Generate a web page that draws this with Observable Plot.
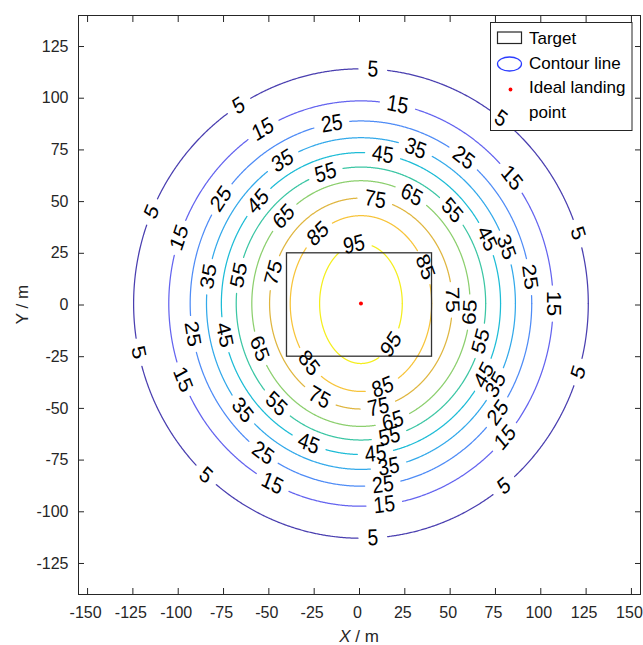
<!DOCTYPE html>
<html><head><meta charset="utf-8">
<script src="https://cdn.jsdelivr.net/npm/d3@7"></script>
<script src="https://cdn.jsdelivr.net/npm/@observablehq/plot@0.6"></script>
<style>
html,body{margin:0;padding:0;background:#fff;overflow:hidden}
#chart{position:relative;width:643px;height:645px}
</style></head><body><div id="chart"></div>
<script>
// ---- data ----
const levels  = [5, 15, 25, 35, 45, 55, 65, 75, 85, 95];
const radiusX = [125.4, 106, 94.2, 85.2, 77, 68.8, 60.2, 50.4, 39, 22.8];   // half-width of each contour (m)
const radiusY = [113.5, 98, 88.3, 80.2, 73, 66, 59.4, 51, 42.5, 29];       // half-height of each contour (m)
const landing = [{x: 0.8, y: 0.7}];                                         // ideal landing point
const target  = [{x1: -40, x2: 40, y1: -25, y2: 25}];                       // target rectangle
// where each contour carries its labels (angle around the contour, degrees)
const labelAngles = [
  [87, 122.5, 157, -168, -133, -87, -51, -17, 17.4, 52],
  [79, 120.7, 161, -158, -117.5, -83, -41.4, 0, 38.3],
  [99.8, 145, -170.4, -125, -82.6, -36.7, 8.4, 53],
  [120.5, 170.6, -140, -79.6, -29.3, 19.9, 69.3],
  [81, 137.5, -168, -112, -84, -28.3, 25.5],
  [106.5, 168, -132.7, -76.8, -16, 43],
  [135, -158.5, -73, -4, 62.3],
  [81, 163, -117, -79, 2],
  [127.5, -137.4, -72, 24.5],
  [99.6, -43]
];
const xTicks = [-150, -125, -100, -75, -50, -25, 0, 25, 50, 75, 100, 125, 150];
const yTicks = [-125, -100, -75, -50, -25, 0, 25, 50, 75, 100, 125];
const legendItems = ["Target", "Contour line", "Ideal landing", "point"];

// ---- styles / layout ----
const lineColors = ["#4a3fb0", "#6464ef", "#4f8cf6", "#33a9ea", "#1dbcd6", "#3cc6a4", "#8ccf6e", "#dfb640", "#f7c43a", "#f4ee1e"];
const W = 643, H = 645, mL = 78, mR = 3, mT = 15, mB = 51;
const xDom = [-155, 155], yDom = [-140, 140];
const kx = (W - mL - mR) / (xDom[1] - xDom[0]);
const ky = (H - mT - mB) / (yDom[1] - yDom[0]);
const squish = 0.84;
const cx = landing[0].x, cy = landing[0].y;
const font = "'Liberation Sans', Arial, sans-serif";

// label rows
const labels = [];
levels.forEach((lv, i) => {
  labelAngles[i].forEach(a => {
    const t = a * Math.PI / 180;
    const x = cx + radiusX[i] * Math.cos(t);
    const y = cy + radiusY[i] * Math.sin(t);
    const tx = -radiusX[i] * Math.sin(t) * kx / squish;
    const ty = -radiusY[i] * Math.cos(t) * ky;
    let ang = Math.atan2(ty, tx) * 180 / Math.PI;
    if (ang > 90) ang -= 180;
    if (ang <= -90) ang += 180;
    labels.push({level: lv, x, y, angle: ang, text: String(lv)});
  });
});

// contour line rows, broken where labels sit
const rows = [];
let seg = 0;
levels.forEach((lv, i) => {
  const labs = labels.filter(d => d.level === lv);
  const half = String(lv).length === 1 ? 14 : 18;
  let inGap = true;
  for (let s = 0; s <= 1440; s++) {
    const t = s * 0.25 * Math.PI / 180;
    const x = cx + radiusX[i] * Math.cos(t);
    const y = cy + radiusY[i] * Math.sin(t);
    const gap = labs.some(d => Math.hypot((x - d.x) * kx, (y - d.y) * ky) < half);
    if (gap) { inGap = true; continue; }
    if (inGap) { seg++; inGap = false; }
    rows.push({level: lv, seg, x, y});
  }
});

const axisColor = "#262626";
const fmt = d => String(d);   // plain hyphen-minus, as in the reference
const chart = Plot.plot({
  width: W, height: H,
  marginLeft: mL, marginRight: mR, marginTop: mT, marginBottom: mB,
  style: {fontFamily: font, fontSize: "16px", color: axisColor, background: "#fff", overflow: "visible"},
  x: {domain: xDom, label: null},
  y: {domain: yDom, label: null},
  color: {type: "ordinal", domain: levels, range: lineColors},
  marks: [
    Plot.line(rows, {x: "x", y: "y", z: "seg", stroke: "level", strokeWidth: 1.25, curve: "linear"}),
    Plot.rect(target, {x1: "x1", x2: "x2", y1: "y1", y2: "y2", stroke: "#333", fill: "none", strokeWidth: 1.3}),
    Plot.dot(landing, {x: "x", y: "y", r: 2, fill: "#ff0000", stroke: null}),
    Plot.frame({stroke: axisColor, strokeWidth: 1}),
    Plot.axisX({anchor: "bottom", ticks: xTicks, tickSize: -6, tickFormat: () => "", label: null, stroke: axisColor}),
    Plot.axisX({anchor: "top", ticks: xTicks, tickSize: -6, tickFormat: () => "", label: null, stroke: axisColor}),
    Plot.axisY({anchor: "left", ticks: yTicks, tickSize: -6, tickFormat: () => "", label: null, stroke: axisColor}),
    Plot.axisY({anchor: "right", ticks: yTicks, tickSize: -6, tickFormat: () => "", label: null, stroke: axisColor}),
    Plot.axisX({anchor: "bottom", ticks: xTicks, tickSize: 0, tickPadding: 12, dx: -2, tickFormat: fmt, label: null, fontSize: 16, fill: axisColor}),
    Plot.axisY({anchor: "left", ticks: yTicks, tickSize: 0, tickPadding: 10, tickFormat: fmt, label: null, fontSize: 16, fill: axisColor}),
    Plot.text(labels, {x: "x", y: "y", text: "text", rotate: "angle", fontSize: 23, fill: "#000"})
  ]
});
document.getElementById("chart").appendChild(chart);

const svg = d3.select(chart);
// horizontally condensed contour labels, as in the reference
const labelG = chart.querySelector('g[aria-label="text"]');
if (labelG) {
  labelG.querySelectorAll("text").forEach(t => {
    const tr = t.getAttribute("transform") || "";
    t.setAttribute("transform", tr.replace(/(translate\([^)]*\))/, `$1 scale(${squish},1)`));
  });
}

// legend (inserted below the contour labels)
const lg = labelG ? svg.insert("g", () => labelG) : svg.append("g");
lg.attr("font-family", font).attr("font-size", 17).attr("text-anchor", "start");
lg.append("rect").attr("x", 490.5).attr("y", 22.5).attr("width", 141.5).attr("height", 108)
  .attr("fill", "#fff").attr("stroke", axisColor).attr("stroke-width", 1);
lg.append("rect").attr("x", 497.5).attr("y", 32).attr("width", 24).attr("height", 11.5)
  .attr("fill", "none").attr("stroke", axisColor).attr("stroke-width", 1.2);
lg.append("ellipse").attr("cx", 509.5).attr("cy", 64).attr("rx", 12).attr("ry", 7)
  .attr("fill", "none").attr("stroke", "#2b3cff").attr("stroke-width", 1.3);
lg.append("circle").attr("cx", 510.5).attr("cy", 89.5).attr("r", 1.9).attr("fill", "#ff0000");
const lgY = [38, 63, 87, 112];
legendItems.forEach((s, i) => {
  lg.append("text").attr("x", 529).attr("y", lgY[i]).attr("dy", "0.35em")
    .attr("text-anchor", "start").attr("fill", "#000").text(s);
});

// axis titles
const xt = svg.append("text").attr("x", mL + (W - mL - mR) / 2).attr("y", 636).attr("dy", "0.35em")
  .attr("text-anchor", "middle").attr("font-size", 17).attr("fill", axisColor).attr("font-family", font);
xt.append("tspan").attr("font-style", "italic").text("X");
xt.append("tspan").text(" / m");
const yt = svg.append("text").attr("transform", `translate(22,${mT + (H - mT - mB) / 2}) rotate(-90)`).attr("dy", "0.35em")
  .attr("text-anchor", "middle").attr("font-size", 17).attr("fill", axisColor).attr("font-family", font);
yt.append("tspan").text("Y / m");
</script></body></html>
